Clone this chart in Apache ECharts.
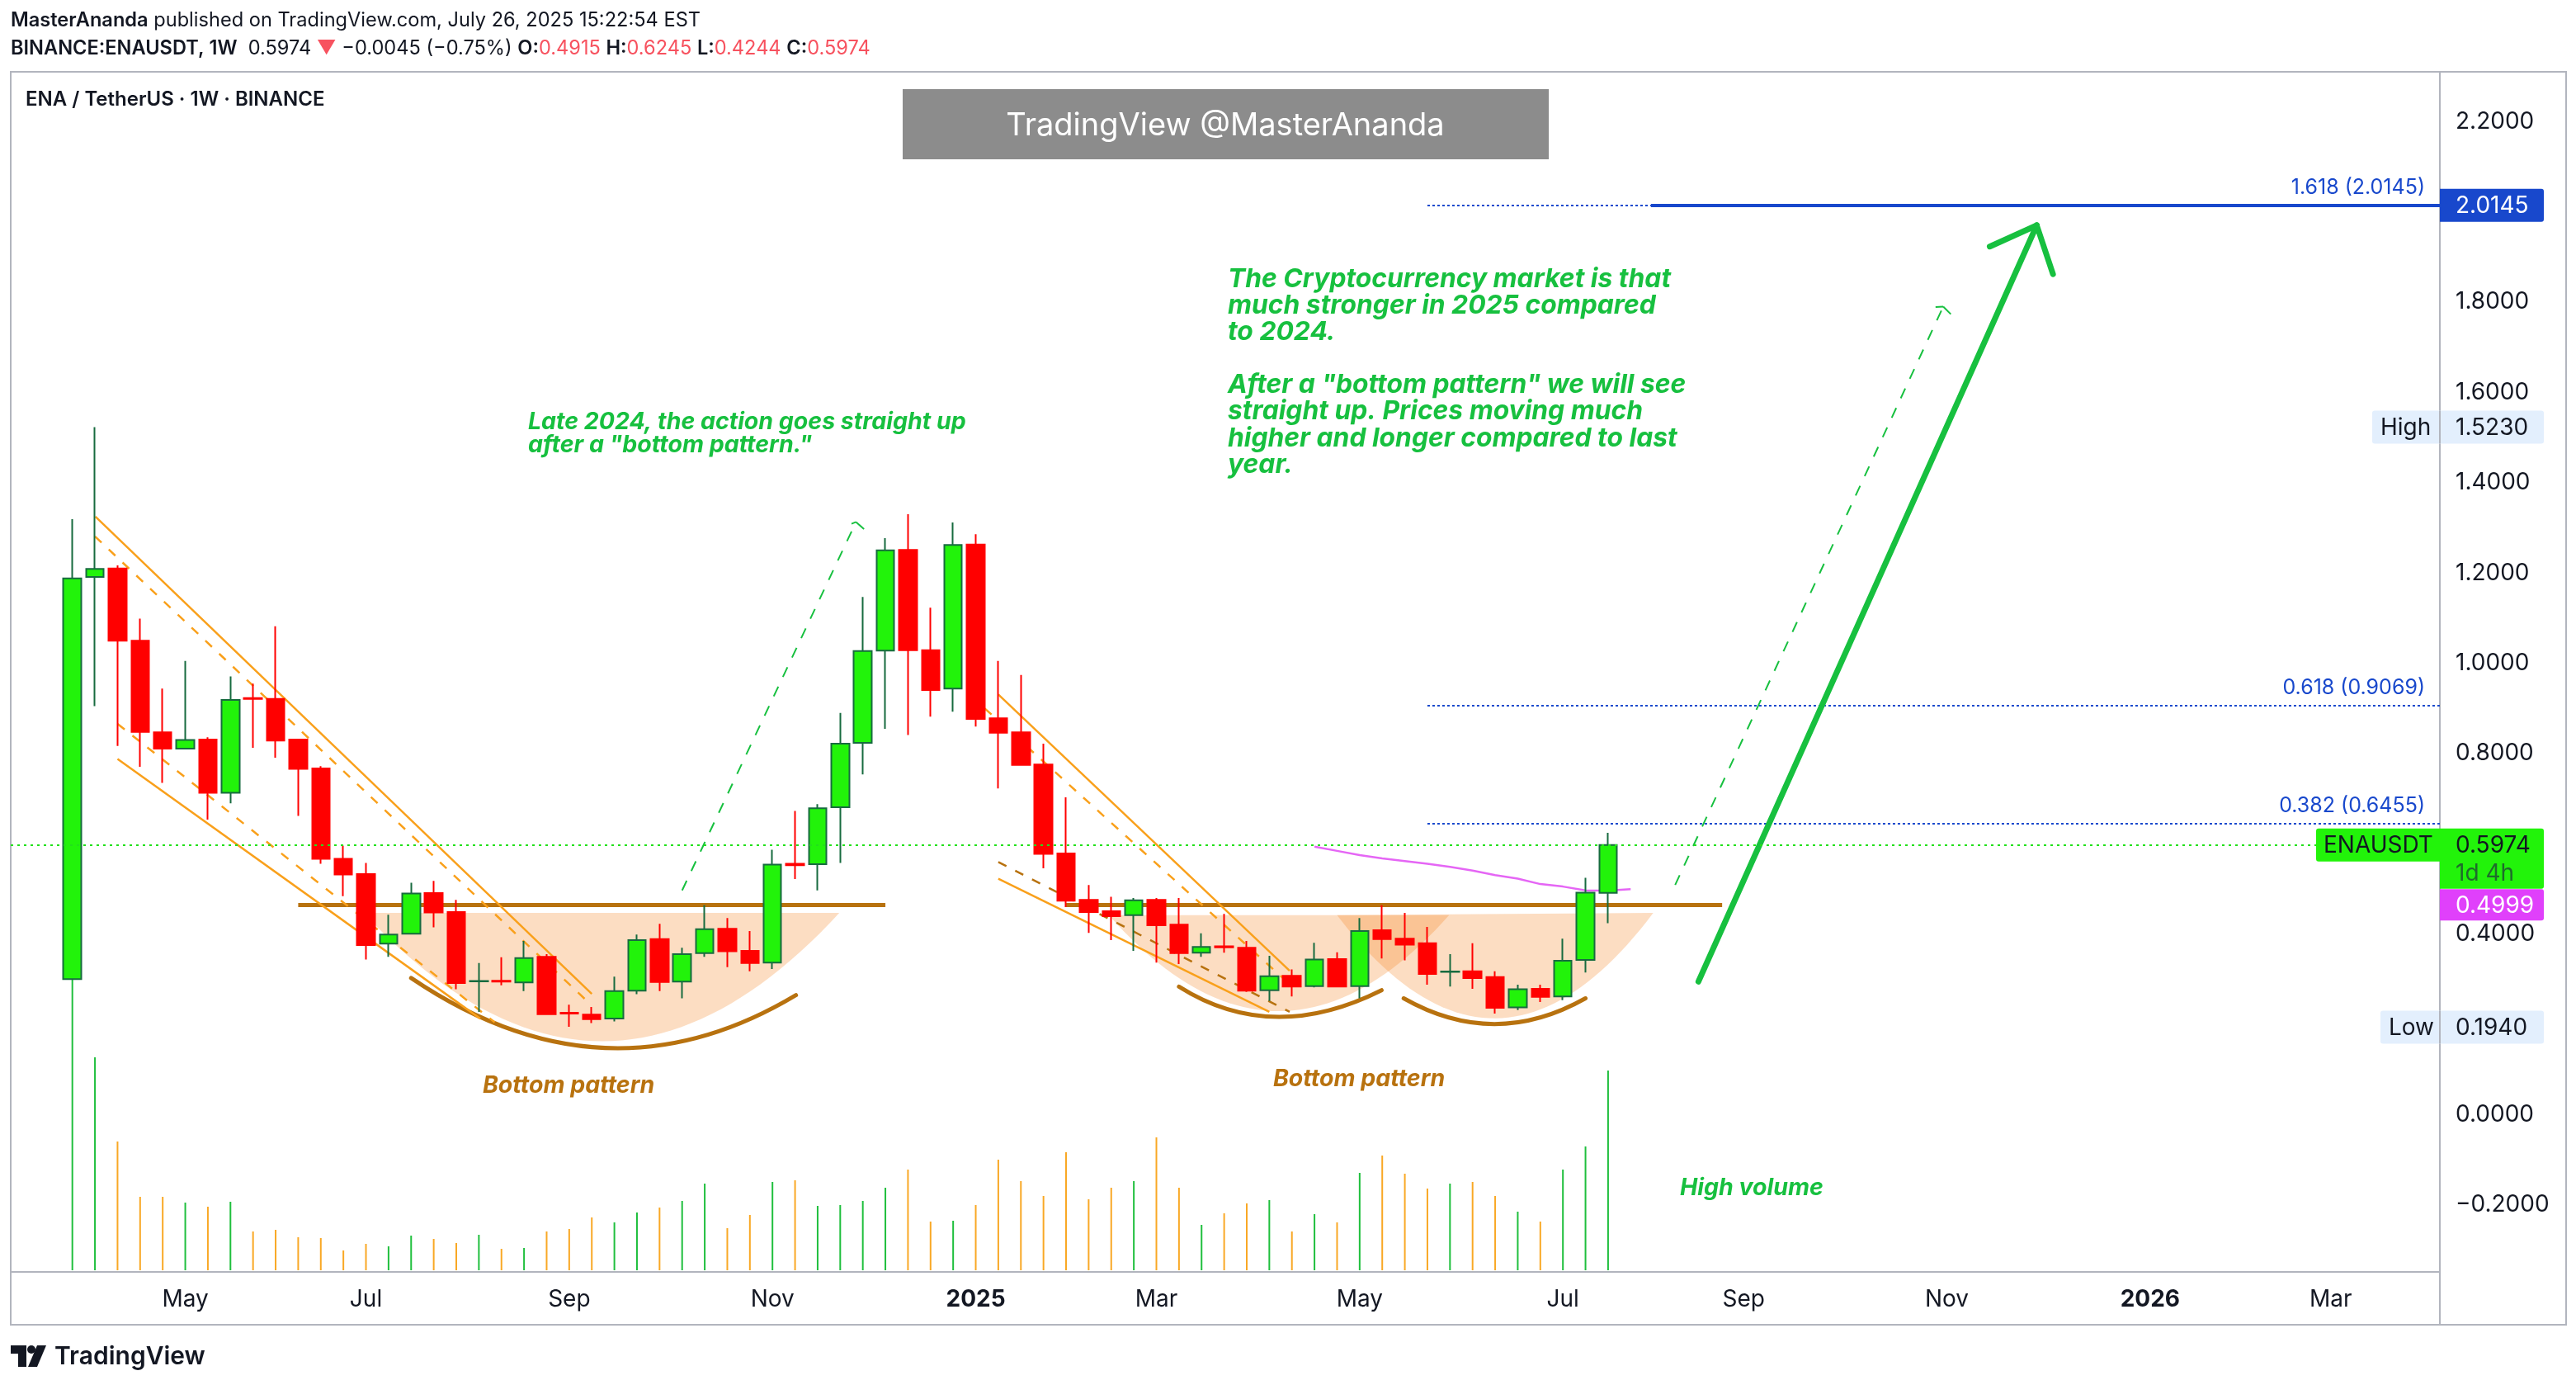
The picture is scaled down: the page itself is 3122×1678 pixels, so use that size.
<!DOCTYPE html>
<html>
<head>
<meta charset="utf-8">
<title>ENAUSDT</title>
<script src="https://cdn.jsdelivr.net/npm/echarts@6/dist/echarts.min.js"></script>
<style>
html, body { margin: 0; padding: 0; background: #fff; }
#chart { width: 3122px; height: 1678px; }
</style>
</head>
<body>
<div id="chart"></div>
<script>
// weekly candles, index 0 = first week of April 2024: open, close, low, high
var opens = [0.3006, 1.191, 1.210, 1.050, 0.847, 0.811, 0.831, 0.713, 0.923, 0.921, 0.831, 0.767, 0.567, 0.533, 0.379, 0.401, 0.491, 0.449, 0.2955, 0.297, 0.293, 0.350, 0.226, 0.222, 0.213, 0.275, 0.389, 0.295, 0.358, 0.412, 0.363, 0.337, 0.556, 0.555, 0.681, 0.824, 1.028, 1.251, 1.029, 0.944, 1.263, 0.878, 0.847, 0.776, 0.579, 0.476, 0.451, 0.442, 0.476, 0.421, 0.359, 0.373, 0.370, 0.276, 0.308, 0.285, 0.345, 0.285, 0.409, 0.390, 0.380, 0.3165, 0.318, 0.305, 0.238, 0.279, 0.262, 0.343, 0.4915];
var closes = [1.188, 1.209, 1.050, 0.848, 0.811, 0.830, 0.713, 0.919, 0.921, 0.829, 0.766, 0.567, 0.532, 0.376, 0.399, 0.490, 0.448, 0.292, 0.2965, 0.295, 0.347, 0.223, 0.224, 0.212, 0.274, 0.387, 0.294, 0.356, 0.411, 0.362, 0.336, 0.554, 0.553, 0.679, 0.822, 1.027, 1.250, 1.029, 0.941, 1.262, 0.877, 0.846, 0.775, 0.578, 0.474, 0.449, 0.440, 0.475, 0.420, 0.358, 0.372, 0.371, 0.275, 0.307, 0.284, 0.344, 0.284, 0.407, 0.389, 0.377, 0.312, 0.3175, 0.303, 0.237, 0.278, 0.261, 0.341, 0.492, 0.5974];
var lows = [0.300, 0.905, 0.817, 0.771, 0.735, 0.811, 0.654, 0.690, 0.813, 0.791, 0.662, 0.556, 0.484, 0.344, 0.350, 0.399, 0.415, 0.278, 0.228, 0.287, 0.274, 0.221, 0.195, 0.203, 0.207, 0.267, 0.274, 0.258, 0.350, 0.327, 0.318, 0.323, 0.522, 0.497, 0.558, 0.754, 0.855, 0.841, 0.882, 0.893, 0.860, 0.723, 0.775, 0.546, 0.460, 0.403, 0.387, 0.363, 0.337, 0.334, 0.350, 0.359, 0.272, 0.252, 0.262, 0.282, 0.284, 0.258, 0.346, 0.342, 0.288, 0.284, 0.279, 0.224, 0.232, 0.250, 0.254, 0.315, 0.4244];
var highs = [1.319, 1.523, 1.217, 1.099, 0.944, 1.005, 0.836, 0.971, 0.955, 1.082, 0.831, 0.772, 0.596, 0.558, 0.443, 0.514, 0.518, 0.476, 0.336, 0.349, 0.385, 0.356, 0.244, 0.239, 0.306, 0.399, 0.423, 0.370, 0.464, 0.436, 0.407, 0.587, 0.673, 0.688, 0.890, 1.147, 1.277, 1.330, 1.123, 1.312, 1.286, 1.005, 0.974, 0.822, 0.703, 0.509, 0.483, 0.480, 0.480, 0.480, 0.402, 0.445, 0.385, 0.352, 0.322, 0.381, 0.360, 0.436, 0.464, 0.447, 0.416, 0.356, 0.380, 0.318, 0.288, 0.288, 0.390, 0.525, 0.6245];
// volume, relative units
var volumes = [1060, 774, 468, 267, 267, 246, 231, 249, 141, 147, 120, 117, 72, 96, 87, 126, 114, 99, 129, 78, 81, 141, 150, 192, 174, 210, 228, 252, 315, 153, 201, 321, 327, 234, 237, 252, 300, 366, 177, 180, 237, 402, 324, 270, 429, 258, 300, 324, 483, 300, 165, 207, 243, 255, 141, 204, 174, 354, 417, 351, 297, 315, 321, 270, 213, 177, 366, 450, 726];
// moving average, starts at week 55
var maStart = 55;
var maValues = [0.594, 0.5845, 0.575, 0.568, 0.562, 0.556, 0.549, 0.541, 0.531, 0.523, 0.511, 0.5055, 0.497, 0.4965, 0.4999];

var tickWeeks = [5, 13, 22, 31, 40, 48, 57, 66, 74, 83, 92, 100];
var tickLabels = ['May', 'Jul', 'Sep', 'Nov', '2025', 'Mar', 'May', 'Jul', 'Sep', 'Nov', '2026', 'Mar'];
var priceTicks = [2.2, 1.8, 1.6, 1.4, 1.2, 1.0, 0.8, 0.4, 0, -0.2];

var lastPrice = 0.5974;
var fibNames = ['1.618', '0.618', '0.382'];
var fibValues = [2.0145, 0.9069, 0.6455];
var fibStart = 60, fibThickStart = 69.9;
var weekMin = -2.729, weekMax = 104.83;

// drawings, all in [week, price]
var levelLines = [[[10, 0.465], [36, 0.465]], [[44, 0.465], [73.05, 0.465]]];
var channelSolid = [
	[[1.02, 1.325], [23, 0.268]],
	[[2, 0.788], [18.06, 0.213]],
	[[41, 0.931], [53.9, 0.319]],
	[[41, 0.523], [53, 0.228]]
];
var channelDashed = [
	[[1, 1.281], [23, 0.242]],
	[[2, 0.866], [18.7, 0.205]],
	[[40.4, 0.900], [53.6, 0.303]]
];
var channelBrown = [[[41, 0.560], [53.9, 0.228]]];
var arrowsDashed = [
	[[27, 0.497], [34.7, 1.313]], [[34.7, 1.313], [35.17, 1.292]], [[34.7, 1.313], [34.5, 1.309]],
	[[70.97, 0.509], [82.84, 1.790]], [[82.84, 1.790], [83.2, 1.772]], [[82.84, 1.790], [82.5, 1.789]]
];
var arrowSolid = [
	[[72, 0.295], [86.98, 1.970]],
	[[86.98, 1.970], [84.9, 1.923]],
	[[86.98, 1.970], [87.7, 1.862]]
];
// start, control, end of a quadratic curve
var cups = [
	[[12.9, 0.447], [23.5, -0.121], [33.96, 0.447]],
	[[45.9, 0.442], [53.4, 0.017], [60.96, 0.442]],
	[[56, 0.442], [63, -0.017], [70, 0.447]]
];
var arcs = [
	[[15, 0.303], [23.6, 0.012], [32.04, 0.265]],
	[[49, 0.284], [53.1, 0.154], [57.97, 0.276]],
	[[58.95, 0.258], [62.96, 0.144], [67, 0.258]]
];

var FONT = 'Inter, "Noto Sans", sans-serif';
var TEXT = '#131722';
var UP = '#22f30a', UP_EDGE = '#176b3f', DOWN = '#ff0000';
var GREEN_TEXT = '#17c03f', BROWN = '#b8720f', ORANGE = '#f9a01b', BLUE = '#1848cc', FRAME = '#b2b5be';

var candles = opens.map(function (o, i) {
	return [i, o, closes[i], lows[i], highs[i]];
});
var volumeData = volumes.map(function (v, i) {
	return [i, v];
});
var maData = maValues.map(function (v, i) {
	return [maStart + i, v];
});

function toLines(list) {
	return list.map(function (c) {
		return { coords: c };
	});
}
function lineSeries(list, style, z) {
	return {
		type: 'lines',
		coordinateSystem: 'cartesian2d',
		polyline: false,
		silent: true,
		z: z,
		lineStyle: style,
		data: toLines(list)
	};
}

// peach cups
function renderCup(params, api) {
	var c = cups[params.dataIndex];
	var a = api.coord(c[0]), b = api.coord(c[1]), d = api.coord(c[2]);
	var pts = [];
	for (var k = 0; k <= 48; k++) {
		var t = k / 48, u = 1 - t;
		pts.push([u * u * a[0] + 2 * u * t * b[0] + t * t * d[0], u * u * a[1] + 2 * u * t * b[1] + t * t * d[1]]);
	}
	return { type: 'polygon', shape: { points: pts }, style: { fill: 'rgba(245,128,30,0.27)' } };
}
function renderArc(params, api) {
	var c = arcs[params.dataIndex];
	var a = api.coord(c[0]), b = api.coord(c[1]), d = api.coord(c[2]);
	return {
		type: 'bezierCurve',
		shape: { x1: a[0], y1: a[1], cpx1: b[0], cpy1: b[1], x2: d[0], y2: d[1] },
		style: { stroke: BROWN, lineWidth: 5, fill: null, lineCap: 'round' }
	};
}

// boxes on the price scale: [price, box name]
var tagData = [[2.0145, 'fib'], [0.5974, 'last'], [0.4999, 'ma'], [1.5230, 'High'], [0.1940, 'Low']];
function txt(s, x, y, fill, align) {
	return { type: 'text', style: { text: s, x: x, y: y + 1, fill: fill, font: '28px ' + FONT, align: align || 'left', verticalAlign: 'middle' } };
}
function box(x, y, w, h, fill, r) {
	return { type: 'rect', shape: { x: x, y: y, width: w, height: h, r: r || 3 }, style: { fill: fill } };
}
function renderTag(params, api) {
	var d = tagData[params.dataIndex];
	var y = api.coord([0, d[0]])[1];
	var ax = params.coordSys.x + params.coordSys.width;
	var label = d[0].toFixed(4), kids = [];
	if (d[1] == 'fib') {
		kids.push(box(ax, y - 20, 126, 40, BLUE, [0, 3, 3, 0]));
		kids.push(txt(label, ax + 19, y, '#fff'));
	} else if (d[1] == 'last') {
		kids.push(box(ax - 150, y - 20, 150, 40, UP, [3, 0, 0, 3]));
		kids.push(txt('ENAUSDT', ax - 141, y, TEXT));
		kids.push(box(ax, y - 20, 126, 73, UP, [0, 3, 3, 0]));
		kids.push(txt(label, ax + 19, y, TEXT));
		kids.push(txt('1d 4h', ax + 19, y + 34, '#1f6b2c'));
	} else if (d[1] == 'ma') {
		// pushed down under the last price box
		kids.push(box(ax, y + 0, 126, 38, '#e040fb', [0, 3, 3, 0]));
		kids.push(txt(label, ax + 19, y + 19, '#fff'));
	} else {
		var w = d[1] == 'High' ? 82 : 72;
		kids.push(box(ax - w, y - 20, w + 126, 40, '#e3effd'));
		kids.push(txt(d[1], ax - w + 10, y, TEXT));
		kids.push(txt(label, ax + 19, y, TEXT));
		kids.push({ type: 'line', shape: { x1: ax, y1: y - 20, x2: ax, y2: y + 20 }, style: { stroke: FRAME, lineWidth: 2 } });
	}
	return { type: 'group', children: kids };
}
function renderFibLabel(params, api) {
	var y = api.coord([0, fibValues[params.dataIndex]])[1];
	var ax = params.coordSys.x + params.coordSys.width;
	return {
		type: 'text',
		style: {
			text: fibNames[params.dataIndex] + ' (' + fibValues[params.dataIndex].toFixed(4) + ')',
			x: ax - 18, y: y - 21, fill: BLUE, font: '25px ' + FONT, align: 'right', verticalAlign: 'middle'
		}
	};
}

var fibDotted = fibValues.map(function (v, i) {
	return [[fibStart, v], [i == 0 ? fibThickStart : weekMax, v]];
});

function gtext(s, x, y, font, fill, extra) {
	var style = { text: s, x: x, y: y, font: font, fill: fill, verticalAlign: 'middle' };
	if (extra) {
		for (var k in extra) style[k] = extra[k];
	}
	return { type: 'text', z: 50, silent: true, style: style };
}
var noteFont = 'italic 700 28.5px ' + FONT;
var bigFont = 'italic 700 31.8px ' + FONT;
var bigNote = [
	['The Cryptocurrency market is that', 338],
	['much stronger in 2025 compared', 370],
	['to 2024.', 402],
	['After a "bottom pattern" we will see', 466],
	['straight up. Prices moving much', 498],
	['higher and longer compared to last', 531],
	['year.', 563]
];

var graphics = [
	// outer frame
	{ type: 'rect', z: 1, silent: true, shape: { x: 13, y: 87, width: 3097, height: 1518 }, style: { fill: null, stroke: FRAME, lineWidth: 2 } },
	{ type: 'line', z: 1, silent: true, shape: { x1: 2957, y1: 1541, x2: 2957, y2: 1605 }, style: { stroke: FRAME, lineWidth: 2 } },
	// header
	{
		type: 'text', z: 50, silent: true,
		style: {
			text: '{b|MasterAnanda} published on TradingView.com, July 26, 2025 15:22:54 EST',
			x: 13, y: 25, fill: TEXT, font: '23.6px ' + FONT, verticalAlign: 'middle',
			rich: { b: { font: '600 23.6px ' + FONT, fill: TEXT } }
		}
	},
	{
		type: 'text', z: 50, silent: true,
		style: {
			text: '{b|BINANCE:ENAUSDT, 1W}  0.5974 {r|▼} −0.0045 (−0.75%) {b|O:}{r|0.4915} {b|H:}{r|0.6245} {b|L:}{r|0.4244} {b|C:}{r|0.5974}',
			x: 13, y: 59, fill: TEXT, font: '23.6px ' + FONT, verticalAlign: 'middle',
			rich: { b: { font: '600 23.6px ' + FONT, fill: TEXT }, r: { font: '23.6px ' + FONT, fill: '#f7525f' } }
		}
	},
	gtext('ENA / TetherUS · 1W · BINANCE', 31, 121, '600 24px ' + FONT, TEXT),
	// watermark
	{ type: 'rect', z: 40, silent: true, shape: { x: 1094, y: 108, width: 783, height: 85 }, style: { fill: '#8c8c8c' } },
	gtext('TradingView @MasterAnanda', 1485, 153, '38px ' + FONT, '#fff', { align: 'center' }),
	// notes
	gtext('Late 2024, the action goes straight up', 640, 511, noteFont, GREEN_TEXT),
	gtext('after a "bottom pattern."', 640, 539, noteFont, GREEN_TEXT),
	gtext('Bottom pattern', 585, 1315, noteFont, BROWN),
	gtext('Bottom pattern', 1543, 1307, noteFont, BROWN),
	gtext('High volume', 2036, 1439, noteFont, GREEN_TEXT),
	// logo
	{ type: 'polygon', z: 50, silent: true, shape: { points: [[13, 1630], [32, 1630], [32, 1656], [22, 1656], [22, 1640], [13, 1640]] }, style: { fill: TEXT } },
	{ type: 'circle', z: 50, silent: true, shape: { cx: 38, cy: 1635, r: 5 }, style: { fill: TEXT } },
	{ type: 'polygon', z: 50, silent: true, shape: { points: [[45, 1630], [56, 1630], [45, 1656], [34, 1656]] }, style: { fill: TEXT } },
	gtext('TradingView', 66, 1644, '600 30px ' + FONT, TEXT)
];
bigNote.forEach(function (n) {
	graphics.push(gtext(n[0], 1488, n[1], bigFont, GREEN_TEXT));
});

var chart = echarts.init(document.getElementById('chart'));
var option = {
	animation: false,
	backgroundColor: '#fff',
	grid: { left: 13, right: 165, top: 87, bottom: 137 },
	xAxis: {
		type: 'value',
		min: weekMin,
		max: weekMax,
		splitLine: { show: false },
		axisTick: { show: false },
		axisLine: { onZero: false, lineStyle: { color: FRAME, width: 2 } },
		axisLabel: {
			customValues: tickWeeks,
			margin: 20,
			color: TEXT,
			fontFamily: 'Inter',
			fontSize: 28,
			formatter: function (v) {
				var s = tickLabels[tickWeeks.indexOf(v)];
				return s.length == 4 ? '{y|' + s + '}' : s;
			},
			rich: { y: { fontFamily: 'Inter', fontWeight: 700, fontSize: 28, color: TEXT } }
		}
	},
	yAxis: [{
		type: 'value',
		position: 'right',
		min: -0.348,
		max: 2.31,
		splitLine: { show: false },
		axisTick: { show: false },
		axisLine: { show: true, onZero: false, lineStyle: { color: FRAME, width: 2 } },
		axisLabel: {
			customValues: priceTicks,
			margin: 19,
			padding: [6, 0, 0, 0],
			color: TEXT,
			fontFamily: 'Inter',
			fontSize: 28,
			formatter: function (v) {
				return v < 0 ? '−' + (-v).toFixed(4) : v.toFixed(4);
			}
		}
	}, {
		type: 'value',
		show: false,
		min: -6,
		max: 4356,
		splitLine: { show: false }
	}],
	graphic: graphics,
	series: [
		{
			type: 'bar',
			yAxisIndex: 1,
			barWidth: 2,
			z: 1,
			silent: true,
			itemStyle: {
				color: function (p) {
					return closes[p.dataIndex] >= opens[p.dataIndex] ? '#1fbf3d' : '#f9a825';
				}
			},
			data: volumeData
		},
		{ type: 'custom', z: 2, silent: true, renderItem: renderCup, data: cups.map(function (c) { return c[0]; }) },
		{ type: 'custom', z: 3, silent: true, renderItem: renderArc, data: arcs.map(function (c) { return c[0]; }) },
		lineSeries(levelLines, { color: BROWN, width: 5, opacity: 1 }, 3),
		lineSeries(channelSolid, { color: ORANGE, width: 2.5, opacity: 1 }, 3),
		lineSeries(channelDashed, { color: ORANGE, width: 2.5, opacity: 1, type: [11, 12] }, 3),
		lineSeries(channelBrown, { color: BROWN, width: 2.5, opacity: 1, type: [11, 12] }, 3),
		lineSeries(arrowsDashed, { color: '#17c03f', width: 2, opacity: 1, type: [13, 13] }, 3),
		lineSeries(arrowSolid, { color: '#17c03f', width: 7, opacity: 1, cap: 'round' }, 6),
		lineSeries(fibDotted, { color: BLUE, width: 2, opacity: 1, type: [3, 3] }, 3),
		lineSeries([[[fibThickStart, fibValues[0]], [weekMax, fibValues[0]]]], { color: BLUE, width: 4, opacity: 1 }, 3),
		{
			type: 'line',
			z: 3,
			silent: true,
			showSymbol: false,
			smooth: false,
			lineStyle: { color: '#e566f5', width: 2.5 },
			data: maData
		},
		{
			type: 'candlestick',
			z: 5,
			silent: true,
			barWidth: 22,
			itemStyle: {
				color: UP,
				color0: DOWN,
				borderColor: UP_EDGE,
				borderColor0: DOWN,
				borderWidth: 2
			},
			data: candles
		},
		lineSeries([[[weekMin, lastPrice], [weekMax, lastPrice]]], { color: '#22e01a', width: 2, opacity: 1, type: [3, 5] }, 7),
		{ type: 'custom', z: 8, silent: true, renderItem: renderFibLabel, data: fibValues.map(function (v) { return [0, v]; }) },
		{ type: 'custom', z: 9, silent: true, clip: false, renderItem: renderTag, data: tagData.map(function (d) { return [0, d[0]]; }) }
	]
};
chart.setOption(option);
</script>
</body>
</html>
